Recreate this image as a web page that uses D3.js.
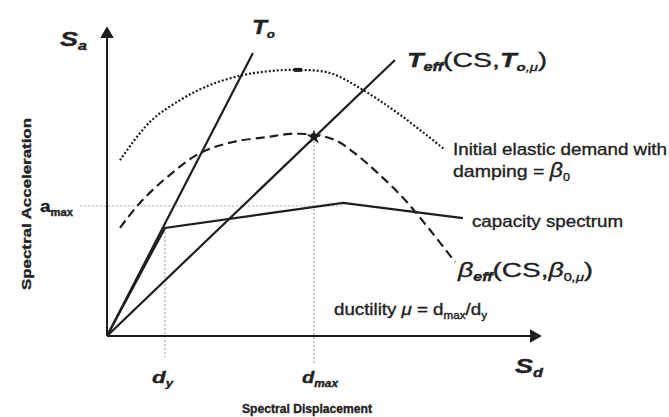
<!DOCTYPE html>
<html>
<head>
<meta charset="utf-8">
<script src="https://cdn.jsdelivr.net/npm/d3@7"></script>
<style>
  body { margin: 0; background: #fff; }
  text { font-family: "Liberation Sans", Arial, sans-serif; fill: #222; stroke: #222; stroke-width: 0.35px; }
</style>
</head>
<body>
<div id="chart"></div>
<script>
// capacity spectrum method sketch, values in arbitrary Sd / Sa units (0-100)
const t0Line = [[0, 0], [33.7, 91.9]];
const teffLine = [[0, 0], [66.5, 89.6]];
const capacity = [[0, 0], [13.4, 35.1], [54.5, 43.2], [82.2, 38.3]];
const elasticDemand = [[3.0, 57.1], [9.9, 69.5], [16.9, 76.6], [23.8, 81.5], [31.4, 84.7], [37.6, 86.0],
  [44.1, 86.4], [51.5, 85.4], [59.1, 79.9], [67.7, 71.8], [78.1, 60.4]];
const effectiveDemand = [[3.0, 35.1], [7.6, 43.2], [13.9, 51.6], [21.5, 59.4], [29.1, 63.0], [37.0, 64.6],
  [42.3, 65.6], [48.0, 65.3], [52.7, 63.6], [57.7, 58.8], [63.0, 52.3], [68.8, 44.2], [74.6, 34.4], [80.4, 24.0]];
const dy = 13.4, dmax = 47.8, amax = 42.2, perfSa = 64.6;

var W = 669, H = 417;
var svg = d3.select("#chart").append("svg").attr("width", W).attr("height", H);

var x = d3.scaleLinear().domain([0, 100]).range([107, 540]);
var y = d3.scaleLinear().domain([0, 100]).range([336, 28]);
var ink = "#1e1e1e";

var line = d3.line().x(d => x(d[0])).y(d => y(d[1]));
var smooth = d3.line().x(d => x(d[0])).y(d => y(d[1])).curve(d3.curveCatmullRom);

// guide lines (grey dotted)
var guides = [
  [[-6.2, amax], [54.5, amax]],
  [[dy, capacity[1][1]], [dy, -6.8]],
  [[dmax, perfSa], [dmax, -9.4]]
];
svg.selectAll(".guide").data(guides).enter().append("path")
  .attr("class", "guide").attr("d", line)
  .attr("fill", "none").attr("stroke", "#aaa").attr("stroke-width", 1.2)
  .attr("stroke-dasharray", "2,2");

// axes with arrows
svg.append("line").attr("x1", x(0)).attr("y1", y(0)).attr("x2", x(0)).attr("y2", y(97))
  .attr("stroke", ink).attr("stroke-width", 2);
svg.append("line").attr("x1", x(0)).attr("y1", y(0)).attr("x2", x(98)).attr("y2", y(0))
  .attr("stroke", ink).attr("stroke-width", 2);
svg.append("path").attr("d", d3.symbol(d3.symbolTriangle, 80)())
  .attr("transform", "translate(" + x(0) + "," + (y(100) + 6) + ")").attr("fill", ink);
svg.append("path").attr("d", d3.symbol(d3.symbolTriangle, 80)())
  .attr("transform", "translate(" + (x(100) - 6) + "," + y(0) + ") rotate(90)").attr("fill", ink);

// demand curves
svg.append("path").datum(elasticDemand).attr("d", smooth)
  .attr("fill", "none").attr("stroke", ink).attr("stroke-width", 2.2).attr("stroke-dasharray", "2,2");
svg.append("path").datum(effectiveDemand).attr("d", smooth)
  .attr("fill", "none").attr("stroke", ink).attr("stroke-width", 2.2).attr("stroke-dasharray", "9,5");

// period lines and capacity spectrum
[t0Line, teffLine, capacity].forEach(d => {
  svg.append("path").datum(d).attr("d", line)
    .attr("fill", "none").attr("stroke", ink).attr("stroke-width", 2.2);
});

// peak tick on elastic curve and performance point
svg.append("rect").attr("x", x(44.1) - 4).attr("y", y(86.4) - 2).attr("width", 8).attr("height", 4).attr("fill", ink);
svg.append("path").attr("d", d3.symbol(d3.symbolStar, 70)())
  .attr("transform", "translate(" + x(dmax) + "," + y(perfSa) + ")").attr("fill", ink);

// rich text helper: parts = [text, size, style, weight, shift]; len = fitted width
function rich(px, py, parts, len) {
  var t = svg.append("text").attr("x", px).attr("y", py);
  var prev = 0;
  parts.forEach(p => {
    var s = p[4] || 0;
    t.append("tspan").text(p[0]).attr("font-size", p[1])
      .attr("font-style", p[2] || "normal").attr("font-weight", p[3] || "normal")
      .attr("dy", s - prev);
    prev = s;
  });
  if (len) t.attr("textLength", len).attr("lengthAdjust", "spacingAndGlyphs");
  return t;
}

rich(60, 46, [["S", 20, "italic", "bold"], ["a", 12, "italic", "bold", 4]], 27);
rich(515, 373, [["S", 20, "italic", "bold"], ["d", 12, "italic", "bold", 4]], 28);
rich(252, 34, [["T", 20, "italic", "bold"], ["o", 11, "italic", "bold", 4]], 23);
rich(407, 67, [["T", 20, "italic", "bold"], ["eff", 12, "italic", "bold", 4],
  ["(CS,", 21, "normal", "normal", 0], ["T", 20, "italic", "bold"], ["o", 11, "italic", "bold", 4],
  [",μ", 11, "italic", "normal", 4], [")", 20, "normal", "normal", 0]], 140);
rich(453, 155, [["Initial elastic demand with", 17]], 214);
rich(453, 177, [["damping = ", 17], ["β", 20, "italic"], ["0", 11, "normal", "normal", 4]], 117);
rich(472, 227, [["capacity spectrum", 17]], 151);
rich(458, 277, [["β", 20, "italic"], ["eff", 12, "italic", "bold", 4],
  ["(CS,", 21, "normal", "normal", 0], ["β", 20, "italic"], ["0", 11, "normal", "normal", 4],
  [",μ", 11, "italic", "normal", 4], [")", 20, "normal", "normal", 0]], 135);
rich(334, 315, [["ductility ", 16], ["μ", 16, "italic"], [" = d", 16], ["max", 10, "normal", "normal", 4],
  ["/d", 16, "normal", "normal", 0], ["y", 10, "normal", "normal", 4]], 153);
rich(40, 212, [["a", 17, "normal", "bold"], ["max", 10, "normal", "bold", 4]], 33);
rich(152, 383, [["d", 17, "italic", "bold"], ["y", 10, "italic", "bold", 4]], 21);
rich(302, 383, [["d", 17, "italic", "bold"], ["max", 10, "italic", "bold", 4]], 36);

svg.append("text").attr("x", 242).attr("y", 413)
  .attr("font-size", 13).attr("font-weight", "bold")
  .attr("textLength", 130).attr("lengthAdjust", "spacingAndGlyphs").text("Spectral Displacement");
svg.append("text").attr("transform", "translate(31,290) rotate(-90)")
  .attr("font-size", 13).attr("font-weight", "bold")
  .attr("textLength", 172).attr("lengthAdjust", "spacingAndGlyphs").text("Spectral Acceleration");
</script>
</body>
</html>
